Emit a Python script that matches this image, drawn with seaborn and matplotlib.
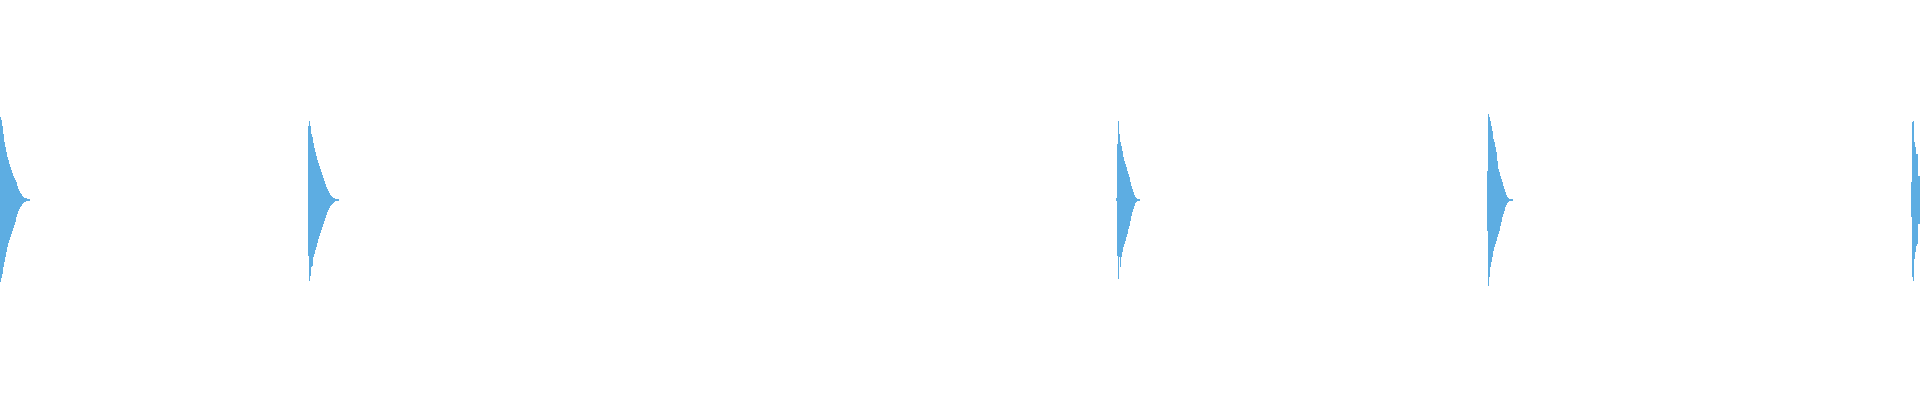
import seaborn as sns
import matplotlib.pyplot as plt
import numpy as np

# waveform bursts: start column and per-column peak amplitude above / below zero
burst_starts = [0, 308, 1116, 1487, 1911]

burst1_top = [83, 80, 74, 66, 58, 53, 48, 43, 40, 36, 33, 30, 27, 24, 22,
              20, 18, 14, 11, 9, 7, 6, 4, 3, 2, 2, 2, 1, 1, 1]
burst1_bottom = [82, 78, 74, 67, 62, 57, 52, 47, 43, 40, 37, 34, 31, 28, 25,
                 22, 17, 14, 11, 9, 7, 6, 4, 3, 2, 2, 1, 1, 1, 1]

burst2_top = [74, 79, 74, 66, 63, 57, 52, 48, 44, 40, 37, 34, 31, 28, 25,
              22, 19, 16, 13, 11, 9, 7, 5, 4, 3, 2, 2, 1, 1, 1, 1]
burst2_bottom = [56, 81, 76, 67, 66, 57, 54, 50, 47, 43, 39, 36, 33, 30, 27,
                 24, 21, 18, 15, 12, 10, 8, 6, 5, 4, 3, 2, 1, 1, 1, 1]

burst3_top = [2, 56, 79, 66, 58, 54, 49, 43, 39, 36, 33, 29, 26, 23, 18,
              14, 11, 8, 5, 3, 2, 1, 1, 1]
burst3_bottom = [1, 56, 79, 57, 67, 57, 52, 47, 44, 41, 37, 34, 29, 26, 21,
                 16, 12, 9, 6, 3, 2, 1, 1, 1]

burst4_top = [29, 86, 83, 79, 74, 69, 61, 58, 53, 48, 39, 31, 28, 24, 21,
              18, 14, 11, 8, 5, 3, 2, 1, 1, 1, 1]
burst4_bottom = [31, 86, 77, 67, 62, 57, 51, 47, 44, 41, 37, 34, 31, 26, 22,
                 17, 14, 11, 7, 5, 3, 2, 1, 1, 1, 1]

burst5_top = [18, 78, 79, 58, 53, 46, 46, 24, 24]
burst5_bottom = [17, 77, 81, 59, 52, 46, 44, 24, 24]

tops = [burst1_top, burst2_top, burst3_top, burst4_top, burst5_top]
bottoms = [burst1_bottom, burst2_bottom, burst3_bottom, burst4_bottom, burst5_bottom]

total_columns = 1920
wave_color = "#5dade2"

sns.set_style("white")
fig = plt.figure(figsize=(19.2, 4), dpi=100)
ax = fig.add_axes([0, 0, 1, 1])

for start, top, bottom in zip(burst_starts, tops, bottoms):
    top = np.array(top)
    bottom = np.array(bottom)
    cols = start + np.arange(len(top))
    ax.bar(cols, top + bottom, bottom=-bottom, width=1, align="edge",
           color=wave_color, linewidth=0)

ax.set_xlim(0, total_columns)
ax.set_ylim(-200.5, 199.5)
ax.axis("off")
sns.despine(left=True, bottom=True)

fig.savefig("out.png", dpi=100, facecolor="white")
